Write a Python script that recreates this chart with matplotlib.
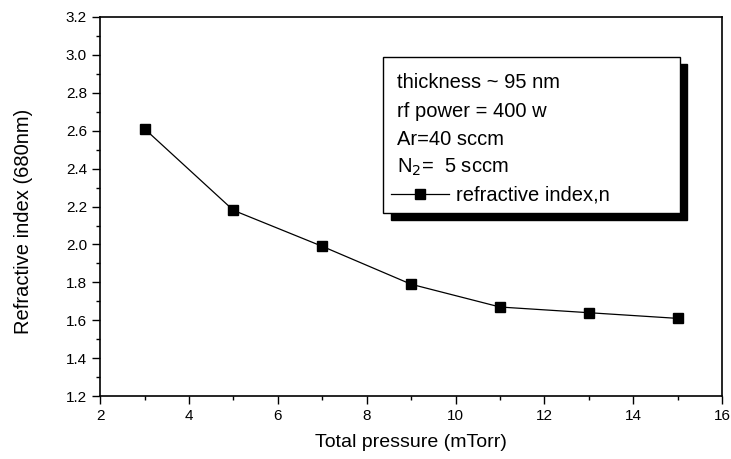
import numpy as np
import matplotlib.pyplot as plt
from matplotlib.patches import Rectangle
from matplotlib.ticker import MultipleLocator

plt.rcParams['font.family'] = ['Liberation Sans', 'DejaVu Sans']

# data
pressure = [3, 5, 7, 9, 11, 13, 15]          # mTorr
n_index = [2.61, 2.18, 1.99, 1.79, 1.67, 1.64, 1.61]

info_lines = ["thickness ~ 95 nm", "rf power = 400 w", "Ar=40 sccm", "N$_2$=  5 sccm"]

fig = plt.figure(figsize=(7.31, 4.59), dpi=100)
ax = fig.add_axes([0.137, 0.137, 0.851, 0.826])

ax.plot(pressure, n_index, color='black', lw=0.9, marker='s', ms=7,
        label='refractive index,n')

ax.set_xlim(2, 16)
ax.set_ylim(1.2, 3.2)
ax.xaxis.set_major_locator(MultipleLocator(2))
ax.xaxis.set_minor_locator(MultipleLocator(1))
ax.yaxis.set_major_locator(MultipleLocator(0.2))
ax.yaxis.set_minor_locator(MultipleLocator(0.1))
ax.yaxis.set_major_formatter(plt.FormatStrFormatter('%.1f'))
ax.tick_params(which='major', direction='out', length=6, width=1, labelsize=11)
ax.tick_params(which='minor', direction='out', length=3, width=1)
for s in ax.spines.values():
    s.set_linewidth(1.2)

ax.set_xlabel("Total pressure (mTorr)", fontsize=14, labelpad=8)
ax.set_ylabel("Refractive index (680nm)", fontsize=14.5)
ax.yaxis.set_label_coords(-0.108, 0.46)

# legend box with a solid shadow
bx0, by0, bw, bh = 0.455, 0.483, 0.477, 0.411
ax.add_patch(Rectangle((bx0 + 0.012, by0 - 0.018), bw, bh, transform=ax.transAxes,
                       facecolor='black', edgecolor='black', zorder=4))
ax.add_patch(Rectangle((bx0, by0), bw, bh, transform=ax.transAxes,
                       facecolor='white', edgecolor='black', lw=1, zorder=5))
for i, t in enumerate(info_lines):
    ax.text(bx0 + 0.022, by0 + bh - 0.068 - i * 0.074, t, transform=ax.transAxes,
            fontsize=14.5, va='center', ha='left', zorder=6)
leg = ax.legend(loc='center left', bbox_to_anchor=(bx0 + 0.006, by0 + bh - 0.068 - 4 * 0.074),
                frameon=False, fontsize=14.5, handlelength=2.9, handletextpad=0.35,
                borderaxespad=0, borderpad=0.2)
leg.set_zorder(7)

fig.savefig("out.png", dpi=100)
